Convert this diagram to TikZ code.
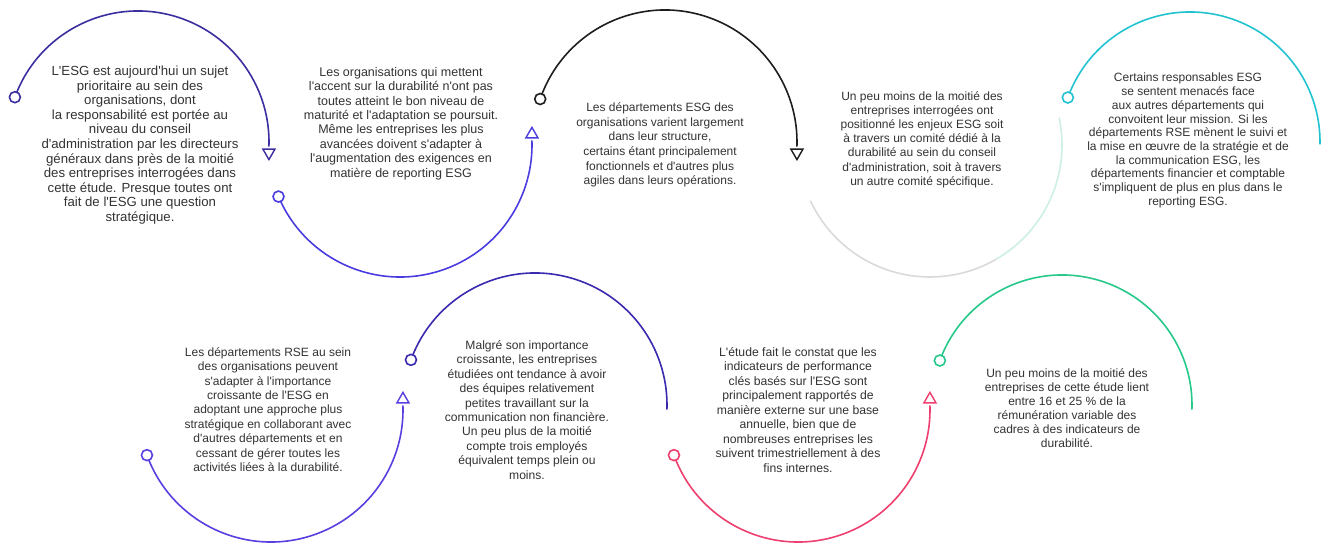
\documentclass[tikz,border=0pt]{standalone}
\usepackage{fontspec}
\setmainfont{Liberation Sans}
\newfontfamily\txtfont{Liberation Sans}
\usetikzlibrary{calc,shapes.geometric}
\definecolor{cA}{HTML}{3B2FA0}
\definecolor{cB}{HTML}{4A3CE0}
\definecolor{cC}{HTML}{1E1E1E}
\definecolor{cE}{HTML}{22C3D0}
\definecolor{cF}{HTML}{5840E0}
\definecolor{cG}{HTML}{3A2AB0}
\definecolor{cH}{HTML}{EE3F6F}
\definecolor{cI}{HTML}{26C98A}
\definecolor{txt}{HTML}{333333}
\definecolor{faintA}{HTML}{DADADA}
\definecolor{faintB}{HTML}{CDEFE6}
\tikzset{
  arcline/.style={line width=1.6pt},
  startdot/.style={circle, draw=#1, fill=white, line width=1.6pt, minimum size=11pt, inner sep=0pt},
  tipdown/.style={regular polygon, regular polygon sides=3, shape border rotate=180, draw=#1, fill=white, line width=1.4pt, minimum size=14pt, inner sep=0pt},
  tipup/.style={regular polygon, regular polygon sides=3, draw=#1, fill=white, line width=1.4pt, minimum size=14pt, inner sep=0pt},
  para/.style={align=center, text=txt, inner sep=0pt},
}
\begin{document}
\begin{tikzpicture}[x=1pt,y=1pt]
\useasboundingbox (0,0) rectangle (1331,554);
\fill[white] (0,0) rectangle (1331,554);
% centres
\coordinate (c1) at (138,412);
\coordinate (c2) at (400,409);
\coordinate (c3) at (665,412);
\coordinate (c4) at (930,409);
\coordinate (c5) at (1190,412);
\coordinate (c6) at (271,144);
\coordinate (c7) at (535,149);
\coordinate (c8) at (798,144);
\coordinate (c9) at (1062,149);
% arcs
\draw[arcline,cA] ($(c1)+(160:131)$) coordinate (a1s) arc[start angle=160,end angle=-2,radius=131] coordinate (a1e);
\draw[arcline,cB] ($(c2)+(203:132)$) coordinate (a2s) arc[start angle=203,end angle=362,radius=132] coordinate (a2e);
\draw[arcline,cC] ($(c3)+(161:132)$) coordinate (a3s) arc[start angle=161,end angle=-2,radius=132] coordinate (a3e);
\draw[arcline,faintA] ($(c4)+(205:132)$) arc[start angle=205,end angle=300,radius=132];
\draw[arcline,faintB] ($(c4)+(300:132)$) arc[start angle=300,end angle=372,radius=132];
\draw[arcline,cE] ($(c5)+(160:130)$) coordinate (a5s) arc[start angle=160,end angle=-1,radius=130];
\draw[arcline,cF] ($(c6)+(200:132)$) coordinate (a6s) arc[start angle=200,end angle=362,radius=132] coordinate (a6e);
\draw[arcline,cG] ($(c7)+(160:132)$) coordinate (a7s) arc[start angle=160,end angle=-2,radius=132];
\draw[arcline,cH] ($(c8)+(200:132)$) coordinate (a8s) arc[start angle=200,end angle=362,radius=132] coordinate (a8e);
\draw[arcline,cI] ($(c9)+(160:130)$) coordinate (a9s) arc[start angle=160,end angle=-2,radius=130];
% markers
\node[startdot=cA] (s1) at (a1s) {};
\node[tipdown=cA] (t1) at ($(a1e)+(0,-6)$) {};
\node[startdot=cB] (s2) at (a2s) {};
\node[tipup=cB] (t2) at ($(a2e)+(0,6)$) {};
\node[startdot=cC] (s3) at (a3s) {};
\node[tipdown=cC] (t3) at ($(a3e)+(0,-6)$) {};
\node[startdot=cE] (s5) at (a5s) {};
\node[startdot=cF] (s6) at (a6s) {};
\node[tipup=cF] (t6) at ($(a6e)+(0,6)$) {};
\node[startdot=cG] (s7) at (a7s) {};
\node[startdot=cH] (s8) at (a8s) {};
\node[tipup=cH] (t8) at ($(a8e)+(0,6)$) {};
\node[startdot=cI] (s9) at (a9s) {};
% texts
\node[para,font=\txtfont\fontsize{13.2}{14.6}\selectfont] (p1) at (140,409) {L'ESG est aujourd'hui un sujet\\prioritaire au sein des\\organisations, dont\\la responsabilité est portée au\\niveau du conseil\\d'administration par les directeurs\\généraux dans près de la moitié\\des entreprises interrogées dans\\cette étude. Presque toutes ont\\fait de l'ESG une question\\stratégique.};
\node[para,font=\txtfont\fontsize{12.5}{14.4}\selectfont] (p2) at (401,430.5) {Les organisations qui mettent\\l'accent sur la durabilité n'ont pas\\toutes atteint le bon niveau de\\maturité et l'adaptation se poursuit.\\Même les entreprises les plus\\avancées doivent s'adapter à\\l'augmentation des exigences en\\matière de reporting ESG};
\node[para,font=\txtfont\fontsize{12}{14.7}\selectfont] (p3) at (660,409) {Les départements ESG des\\organisations varient largement\\dans leur structure,\\certains étant principalement\\fonctionnels et d'autres plus\\agiles dans leurs opérations.};
\node[para,font=\txtfont\fontsize{12}{14.2}\selectfont] (p4) at (922,414.5) {Un peu moins de la moitié des\\entreprises interrogées ont\\positionné les enjeux ESG soit\\à travers un comité dédié à la\\durabilité au sein du conseil\\d'administration, soit à travers\\un autre comité spécifique.};
\node[para,font=\txtfont\fontsize{12}{13.7}\selectfont] (p5) at (1188,413.5) {Certains responsables ESG\\se sentent menacés face\\aux autres départements qui\\convoitent leur mission. Si les\\départements RSE mènent le suivi et\\la mise en œuvre de la stratégie et de\\la communication ESG, les\\départements financier et comptable\\s'impliquent de plus en plus dans le\\reporting ESG.};
\node[para,font=\txtfont\fontsize{12}{14.4}\selectfont] (p6) at (268,144.5) {Les départements RSE au sein\\des organisations peuvent\\s'adapter à l'importance\\croissante de l'ESG en\\adoptant une approche plus\\stratégique en collaborant avec\\d'autres départements et en\\cessant de gérer toutes les\\activités liées à la durabilité.};
\node[para,font=\txtfont\fontsize{12.1}{14.4}\selectfont] (p7) at (527,144) {Malgré son importance\\croissante, les entreprises\\étudiées ont tendance à avoir\\des équipes relativement\\petites travaillant sur la\\communication non financière.\\Un peu plus de la moitié\\compte trois employés\\équivalent temps plein ou\\moins.};
\node[para,font=\txtfont\fontsize{12.2}{14.5}\selectfont] (p8) at (798,144) {L'étude fait le constat que les\\indicateurs de performance\\clés basés sur l'ESG sont\\principalement rapportés de\\manière externe sur une base\\annuelle, bien que de\\nombreuses entreprises les\\suivent trimestriellement à des\\fins internes.};
\node[para,font=\txtfont\fontsize{12}{14}\selectfont] (p9) at (1067,146) {Un peu moins de la moitié des\\entreprises de cette étude lient\\entre 16 et 25 \% de la\\rémunération variable des\\cadres à des indicateurs de\\durabilité.};
\end{tikzpicture}
\end{document}
